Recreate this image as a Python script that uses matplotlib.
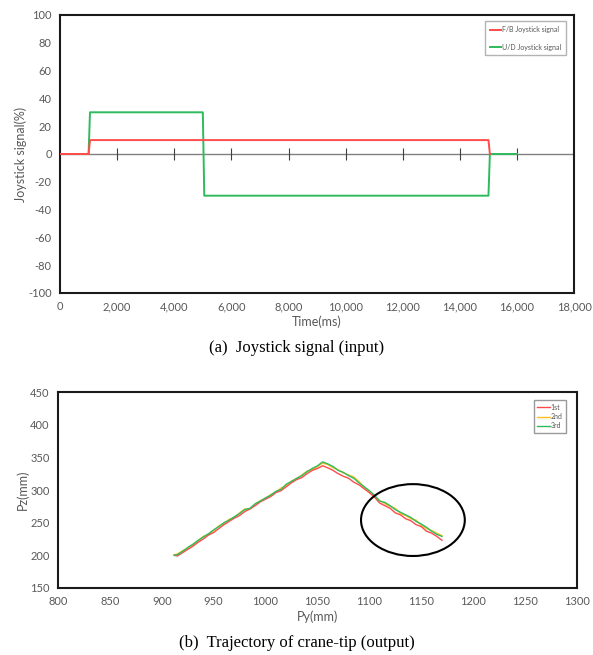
import matplotlib
matplotlib.use("Agg")
import matplotlib.pyplot as plt
from matplotlib.patches import Ellipse
from matplotlib.ticker import FuncFormatter

plt.rcParams["axes.unicode_minus"] = False
plt.rcParams["font.family"] = ["Lato", "DejaVu Sans"]

# ---------------- data: (a) joystick signal ----------------
fb_time = [0, 1000, 1050, 15000, 15050]
fb_signal = [0, 0, 10, 10, 0]
ud_time = [0, 1000, 1050, 5000, 5050, 15000, 15050, 16000]
ud_signal = [0, 0, 30, 30, -30, -30, 0, 0]
time_ticks = [0, 2000, 4000, 6000, 8000, 10000, 12000, 14000, 16000, 18000]
signal_ticks = [-100, -80, -60, -40, -20, 0, 20, 40, 60, 80, 100]
zero_marks = [2000, 4000, 6000, 8000, 10000, 12000, 14000, 16000]

# ---------------- data: (b) crane-tip trajectory ----------------
py = [912, 915, 920, 925, 930, 935, 940, 945, 950, 955, 960, 965, 970, 975,
      980, 985, 990, 995, 1000, 1005, 1010, 1015, 1020, 1025, 1030, 1035,
      1040, 1045, 1050, 1055, 1060, 1065, 1070, 1075, 1080, 1085, 1090, 1095,
      1100, 1105, 1110, 1115, 1120, 1125, 1130, 1135, 1140, 1145, 1150, 1155,
      1160, 1165, 1170]
pz_1st = [200, 199, 204, 209, 214, 220, 225, 231, 235, 241, 247, 252, 257, 261,
          267, 271, 276, 282, 286, 290, 296, 299, 305, 311, 316, 319, 325, 330,
          333, 337, 334, 330, 325, 321, 318, 312, 308, 302, 296, 289, 280, 276,
          272, 265, 262, 256, 253, 247, 244, 237, 234, 229, 223]
pz_2nd = [201, 202, 207, 211, 216, 222, 229, 232, 238, 245, 249, 255, 258, 265,
          271, 271, 278, 284, 287, 293, 297, 303, 307, 314, 317, 323, 329, 331,
          336, 341, 339, 334, 331, 326, 323, 320, 313, 304, 298, 290, 284, 279,
          275, 272, 264, 261, 256, 254, 246, 241, 238, 234, 230]
pz_3rd = [200, 201, 206, 212, 217, 223, 228, 233, 239, 244, 250, 254, 259, 264,
          270, 272, 279, 283, 288, 292, 298, 301, 309, 313, 318, 322, 328, 333,
          337, 343, 340, 336, 330, 327, 322, 318, 311, 305, 299, 292, 283, 281,
          276, 270, 266, 262, 258, 252, 248, 243, 237, 232, 229]
py_ticks = [800, 850, 900, 950, 1000, 1050, 1100, 1150, 1200, 1250, 1300]
pz_ticks = [150, 200, 250, 300, 350, 400, 450]
ellipse_center = (1142, 254)
ellipse_size = (100, 110)

# ---------------- styling ----------------
TICK_COLOR = "#595959"
RED = "#ff4b4b"
GREEN = "#2fba5e"
ORANGE = "#ffc020"

fig = plt.figure(figsize=(5.93, 6.55), dpi=100)
fig.patch.set_facecolor("white")


def style_axes(ax):
    for s in ax.spines.values():
        s.set_color("#1a1a1a")
        s.set_linewidth(1.5)
    ax.tick_params(length=0, labelsize=8, colors=TICK_COLOR, pad=6)


# ---------- (a) ----------
ax1 = fig.add_axes([0.1012, 0.5527, 0.867, 0.4244])
ax1.axhline(0, color="#808080", lw=1.0, zorder=1)
ax1.plot(zero_marks, [0] * len(zero_marks), linestyle="none", marker="|",
         markersize=8, color="#404040", mew=0.8, zorder=1)
ax1.plot(fb_time, fb_signal, color=RED, lw=1.4, label="F/B Joystick signal", zorder=3)
ax1.plot(ud_time, ud_signal, color=GREEN, lw=1.4, label="U/D Joystick signal", zorder=2)
ax1.set_xlim(0, 18000)
ax1.set_ylim(-100, 100)
ax1.set_xticks(time_ticks)
ax1.set_yticks(signal_ticks)
ax1.xaxis.set_major_formatter(FuncFormatter(lambda v, p: f"{int(v):,}"))
style_axes(ax1)
ax1.set_xlabel("Time(ms)", fontsize=9, color=TICK_COLOR, labelpad=2)
ax1.set_ylabel("Joystick signal(%)", fontsize=9, color=TICK_COLOR, labelpad=1)
leg1 = ax1.legend(loc="upper right", fontsize=5, frameon=True, fancybox=False,
                  edgecolor="#a0a0a0", handlelength=1.6, handletextpad=0.1,
                  labelspacing=1.5, borderpad=0.7, bbox_to_anchor=(0.99, 0.99))
for t in leg1.get_texts():
    t.set_color(TICK_COLOR)
fig.text(0.5, 0.468, "(a)  Joystick signal (input)", ha="center", va="center",
         fontsize=12, family="Liberation Serif")

# ---------- (b) ----------
ax2 = fig.add_axes([0.0978, 0.1023, 0.875, 0.2992])
ax2.plot(py, pz_1st, color=RED, lw=1.0, label="1st", zorder=3)
ax2.plot(py, pz_2nd, color=ORANGE, lw=1.0, label="2nd", zorder=2)
ax2.plot(py, pz_3rd, color=GREEN, lw=1.0, label="3rd", zorder=4)
ax2.add_patch(Ellipse(ellipse_center, ellipse_size[0], ellipse_size[1],
                      fill=False, edgecolor="black", lw=1.5, zorder=5))
ax2.set_xlim(800, 1300)
ax2.set_ylim(150, 450)
ax2.set_xticks(py_ticks)
ax2.set_yticks(pz_ticks)
style_axes(ax2)
ax2.set_xlabel("Py(mm)", fontsize=9, color=TICK_COLOR, labelpad=2)
ax2.set_ylabel("Pz(mm)", fontsize=9, color=TICK_COLOR, labelpad=1)
leg2 = ax2.legend(loc="upper right", fontsize=5, frameon=True, fancybox=False,
                  edgecolor="#808080", handlelength=1.8, handletextpad=0.1,
                  labelspacing=0.35, borderpad=0.45, bbox_to_anchor=(0.985, 0.975))
for t in leg2.get_texts():
    t.set_color(TICK_COLOR)
fig.text(0.5, 0.018, "(b)  Trajectory of crane-tip (output)", ha="center",
         va="center", fontsize=12, family="Liberation Serif")

fig.savefig("out.png", dpi=100, facecolor="white")
